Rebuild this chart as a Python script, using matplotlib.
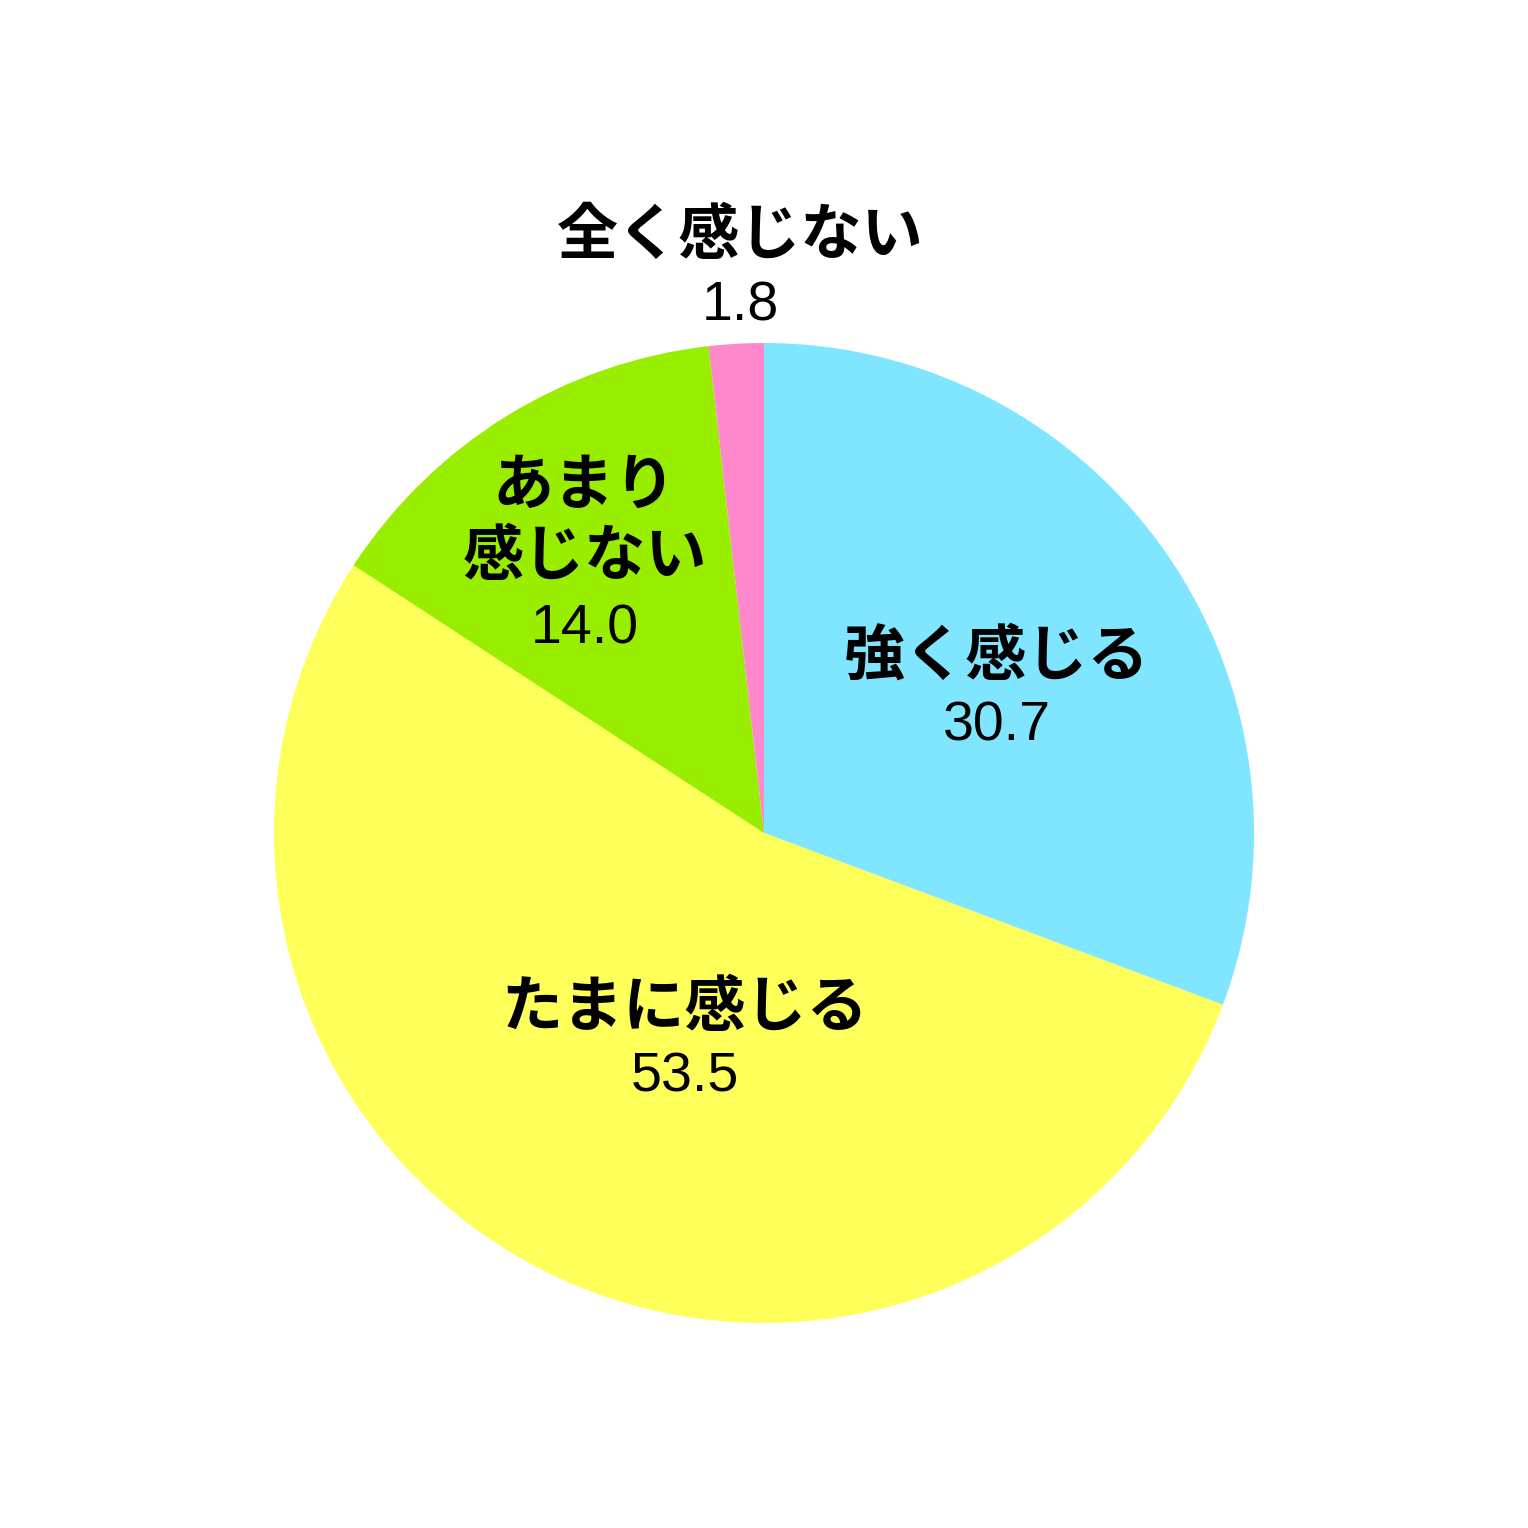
import matplotlib
matplotlib.use("Agg")
import matplotlib.pyplot as plt
import numpy as np

categories = ["強く感じる", "たまに感じる", "あまり\n感じない", "全く感じない"]
values = [30.7, 53.5, 14.0, 1.8]
value_labels = ["30.7", "53.5", "14.0", "1.8"]
colors = ["#80E6FF", "#FFFF5A", "#99EE00", "#FF88CC"]

# label placement (radius fraction, angle offset in degrees)
label_r = [0.56, 0.45, 0.68, 1.155]
label_dang = [-2.7, 5.8, 0.9, -0.8]

W = 1528
fig = plt.figure(figsize=(15.28, 15.28), dpi=100)
ax = fig.add_axes([0, 0, 1, 1])

cx, cy, R = 764, W - 833, 490
wedges, _ = ax.pie(values, colors=colors, startangle=90, counterclock=False,
                   center=(cx, cy), radius=R, frame=True,
                   wedgeprops=dict(linewidth=0))
ax.set_xlim(0, W)
ax.set_ylim(0, W)
ax.set_aspect("equal")
ax.axis("off")

jp = ["Noto Sans CJK JP", "DejaVu Sans"]
for w, cat, vl, rf, da in zip(wedges, categories, value_labels, label_r, label_dang):
    mid = np.deg2rad((w.theta1 + w.theta2) / 2 + da)
    x = cx + rf * R * np.cos(mid)
    y = cy + rf * R * np.sin(mid) - 5
    nlines = cat.count("\n") + 1
    line_h = 76
    total = nlines * line_h + 68
    top = y + total / 2
    ax.text(x, top - nlines * line_h / 2 + 2, cat, ha="center", va="center",
            fontsize=44, fontweight="bold", family=jp, linespacing=1.2)
    ax.text(x, top - nlines * line_h - 30, vl, ha="center", va="center",
            fontsize=40, family=["Liberation Sans"])

fig.savefig("out.png", dpi=100, facecolor="white")
